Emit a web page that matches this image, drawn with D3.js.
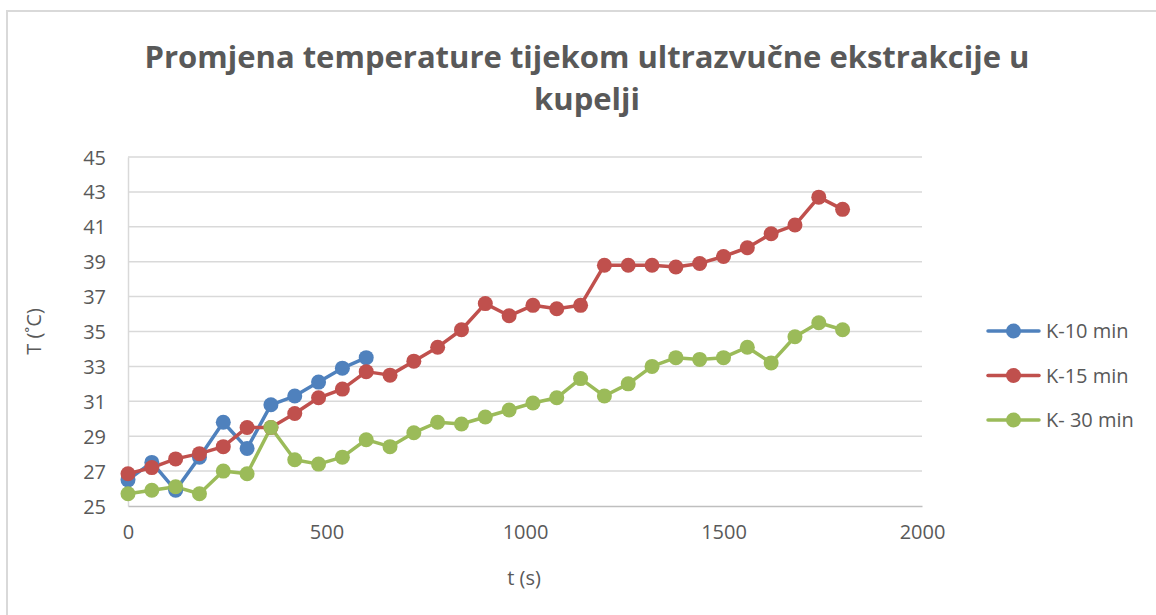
<!DOCTYPE html>
<html>
<head>
<meta charset="utf-8">
<script src="https://cdn.jsdelivr.net/npm/d3@7"></script>
<style>
  html, body { margin: 0; padding: 0; background: #fff; }
  svg { display: block; }
  text { font-family: "Open Sans", "Noto Sans", sans-serif; fill: #595959; }
</style>
</head>
<body>
<svg id="chart" width="1156" height="615"></svg>
<script>
const titleLines = ["Promjena temperature tijekom ultrazvučne ekstrakcije u", "kupelji"];
const xTitle = "t (s)";
const yTitle = "T (˚C)";
const xTicks = [0, 500, 1000, 1500, 2000];
const yTicks = [25, 27, 29, 31, 33, 35, 37, 39, 41, 43, 45];

const timeK10 = [0, 60, 120, 180, 240, 300, 360, 420, 480, 540, 600];
const tempK10 = [26.5, 27.5, 25.9, 27.8, 29.8, 28.3, 30.8, 31.3, 32.1, 32.9, 33.5];

const timeK15 = [0, 60, 120, 180, 240, 300, 360, 420, 480, 540, 600, 660, 720, 780, 840, 900, 960, 1020, 1080, 1140, 1200, 1260, 1320, 1380, 1440, 1500, 1560, 1620, 1680, 1740, 1800];
const tempK15 = [26.85, 27.2, 27.7, 28.0, 28.4, 29.5, 29.5, 30.3, 31.2, 31.7, 32.7, 32.5, 33.3, 34.1, 35.1, 36.6, 35.9, 36.5, 36.3, 36.5, 38.8, 38.8, 38.8, 38.7, 38.9, 39.3, 39.8, 40.6, 41.1, 42.7, 42.0];

const timeK30 = [0, 60, 120, 180, 240, 300, 360, 420, 480, 540, 600, 660, 720, 780, 840, 900, 960, 1020, 1080, 1140, 1200, 1260, 1320, 1380, 1440, 1500, 1560, 1620, 1680, 1740, 1800];
const tempK30 = [25.7, 25.9, 26.1, 25.7, 27.0, 26.85, 29.5, 27.65, 27.4, 27.8, 28.8, 28.4, 29.2, 29.8, 29.7, 30.1, 30.5, 30.9, 31.2, 32.3, 31.3, 32.0, 33.0, 33.5, 33.4, 33.5, 34.1, 33.2, 34.7, 35.5, 35.1];

const seriesNames = ["K-10 min", "K-15 min", "K- 30 min"];
const seriesColors = ["#4f81bd", "#c0504d", "#9bbb59"];

const series = [
  { name: seriesNames[0], color: seriesColors[0], pts: timeK10.map((t, i) => ({ t, v: tempK10[i] })) },
  { name: seriesNames[1], color: seriesColors[1], pts: timeK15.map((t, i) => ({ t, v: tempK15[i] })) },
  { name: seriesNames[2], color: seriesColors[2], pts: timeK30.map((t, i) => ({ t, v: tempK30[i] })) }
];

const svg = d3.select("#chart");

// outer border
svg.append("rect").attr("x", 7).attr("y", 11).attr("width", 1170).attr("height", 630)
  .attr("fill", "#fff").attr("stroke", "#d9d9d9").attr("stroke-width", 2);

const x = d3.scaleLinear().domain([0, 2000]).range([128, 922]);
const y = d3.scaleLinear().domain([25, 45]).range([506, 157]);

// gridlines
svg.append("g").selectAll("line").data(yTicks.filter(d => d !== 25)).join("line")
  .attr("x1", x(0)).attr("x2", x(2000))
  .attr("y1", d => y(d)).attr("y2", d => y(d))
  .attr("stroke", "#d9d9d9").attr("stroke-width", 1.5);

// y axis
const yAxis = d3.axisLeft(y).tickValues(yTicks).tickSize(0).tickPadding(22).tickFormat(d3.format("d"));
const gy = svg.append("g").attr("transform", `translate(${x(0)},0)`).call(yAxis);
gy.select(".domain").attr("stroke", "#d9d9d9").attr("stroke-width", 1.5);
gy.selectAll("text").style("font-size", "20px").attr("fill", "#595959")
  .style("font-family", "'Open Sans', sans-serif").attr("dy", "0.35em");

// x axis
const xAxis = d3.axisBottom(x).tickValues(xTicks).tickSize(0).tickPadding(19).tickFormat(d3.format("d"));
const gx = svg.append("g").attr("transform", `translate(0,${y(25)})`).call(xAxis);
gx.select(".domain").attr("stroke", "#bfbfbf").attr("stroke-width", 1.5);
gx.selectAll("text").style("font-size", "20px").attr("fill", "#595959")
  .style("font-family", "'Open Sans', sans-serif");

// lines & markers
const line = d3.line().x(d => x(d.t)).y(d => y(d.v));
series.forEach(s => {
  svg.append("path").datum(s.pts).attr("d", line)
    .attr("fill", "none").attr("stroke", s.color).attr("stroke-width", 3.5)
    .attr("stroke-linejoin", "round").attr("stroke-linecap", "round");
});
series.forEach(s => {
  svg.append("g").selectAll("circle").data(s.pts).join("circle")
    .attr("cx", d => x(d.t)).attr("cy", d => y(d.v)).attr("r", 7.5)
    .attr("fill", s.color);
});

// title
const title = svg.append("g");
titleLines.forEach((t, i) => {
  title.append("text").attr("x", 587).attr("y", 68 + i * 42)
    .attr("text-anchor", "middle")
    .style("font-size", "31px").style("font-weight", "700")
    .attr("fill", "#595959").text(t);
});

// axis titles
svg.append("text").attr("x", x(1000) - 1).attr("y", 585).attr("text-anchor", "middle")
  .style("font-size", "20px").text(xTitle);
svg.append("text").attr("transform", `translate(41,${y(35)}) rotate(-90)`)
  .attr("text-anchor", "middle").style("font-size", "20px").text(yTitle);

// legend
const legend = svg.append("g");
series.forEach((s, i) => {
  const ly = 331 + i * 44.5;
  legend.append("line").attr("x1", 988).attr("x2", 1039).attr("y1", ly).attr("y2", ly)
    .attr("stroke", s.color).attr("stroke-width", 3.5).attr("stroke-linecap", "round");
  legend.append("circle").attr("cx", 1013.5).attr("cy", ly).attr("r", 7.5).attr("fill", s.color);
  legend.append("text").attr("x", 1046).attr("y", ly).attr("dy", "0.35em")
    .style("font-size", "20px").text(s.name);
});
</script>
</body>
</html>
